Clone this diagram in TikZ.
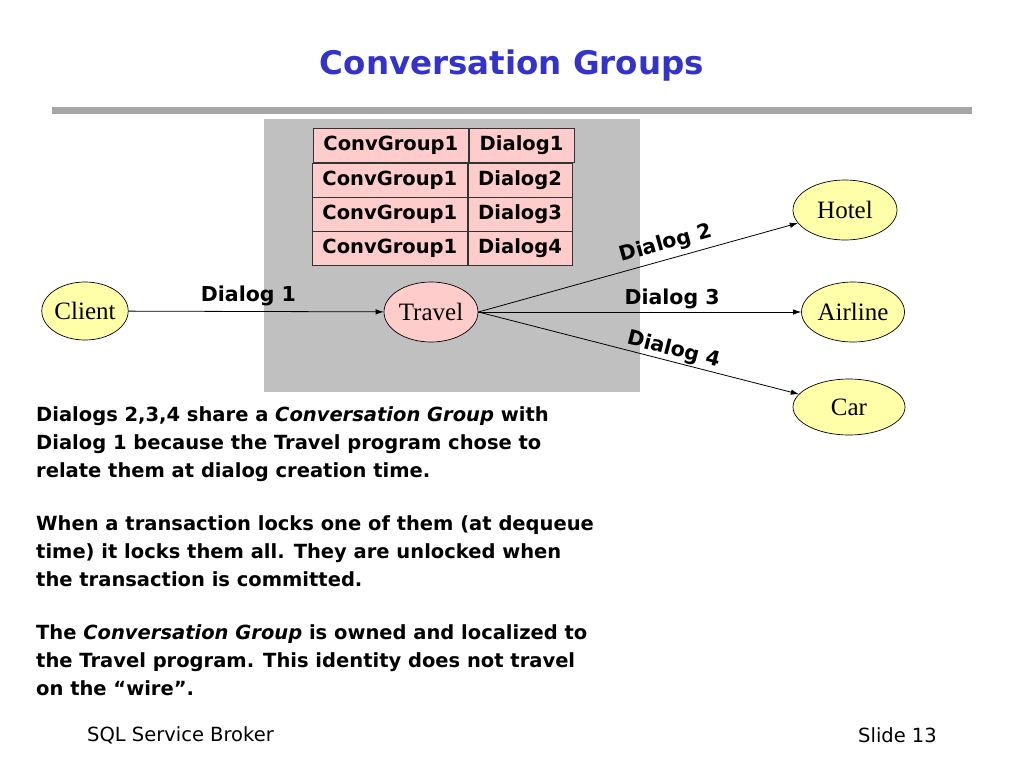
\documentclass[tikz,border=0pt]{standalone}
\usepackage{fontspec}
\setmainfont{Liberation Serif}
\newfontfamily\comic{DejaVu Sans}
\usetikzlibrary{arrows.meta,shapes.geometric}
\definecolor{titleblue}{HTML}{3333CC}
\definecolor{rulegray}{HTML}{A6A6A6}
\definecolor{boxgray}{HTML}{C0C0C0}
\definecolor{pinkfill}{HTML}{FFCCCC}
\definecolor{yellowfill}{HTML}{FFFFAA}
\begin{document}
\begin{tikzpicture}[x=1pt,y=-1pt,
  ent/.style={ellipse, draw=black, line width=0.7pt, inner sep=0pt, font=\fontsize{25}{27}\selectfont},
  client/.style={ent, fill=yellowfill},
  proc/.style={ent, fill=pinkfill},
  cell/.style={rectangle, draw=black!80, line width=0.7pt, fill=pinkfill, inner sep=0pt, anchor=north west, minimum height=34, font=\comic\bfseries\fontsize{19.5}{22}\selectfont},
  arr/.style={-{Latex[length=8pt,width=5.5pt]}, line width=0.8pt},
  lbl/.style={font=\comic\bfseries\fontsize{20.5}{22}\selectfont, inner sep=2pt},
  body/.style={font=\comic\bfseries\fontsize{19.5}{28}\selectfont, align=left, anchor=north west, inner sep=0pt},
  foot/.style={font=\comic\fontsize{19.5}{22}\selectfont, inner sep=0pt}
]
\useasboundingbox (0,0) rectangle (1024,768);
\fill[white] (0,0) rectangle (1024,768);
% title
\node[font=\comic\bfseries\fontsize{32.5}{36}\selectfont, text=titleblue] (title) at (512,66) {Conversation Groups};
\fill[rulegray] (52,107) rectangle (972,114);
% gray area
\fill[boxgray] (264,119) rectangle (640,392);
% table
\node[cell, minimum width=155] (g1) at (313,128) {ConvGroup1};
\node[cell, minimum width=105] (d1) at (g1.north east) {Dialog1};
\node[cell, minimum width=155] (g2) at (312,163) {ConvGroup1};
\node[cell, minimum width=104] (d2) at (g2.north east) {Dialog2};
\node[cell, minimum width=155] (g3) at (312,197) {ConvGroup1};
\node[cell, minimum width=104] (d3) at (g3.north east) {Dialog3};
\node[cell, minimum width=155] (g4) at (312,231) {ConvGroup1};
\node[cell, minimum width=104] (d4) at (g4.north east) {Dialog4};
% ellipses
\node[client, minimum width=86, minimum height=58] (client) at (85,311) {Client};
\node[proc, minimum width=94, minimum height=60] (travel) at (431,312) {Travel};
\node[client, minimum width=104, minimum height=60] (hotel) at (845,210) {Hotel};
\node[client, minimum width=103, minimum height=60] (airline) at (853,312) {Airline};
\node[client, minimum width=112, minimum height=56] (car) at (849,407) {Car};
% connectors
\draw[arr] (client) -- node[lbl, pos=0.47, above=3pt] {Dialog 1} (travel);
\draw[arr] (travel.east) -- node[lbl, pos=0.6, sloped, above=3pt] {Dialog 2} (hotel);
\draw[arr] (travel.east) -- node[lbl, pos=0.60, above=1pt] {Dialog 3} (airline);
\draw[arr] (travel.east) -- node[lbl, pos=0.60, sloped, above=-1pt] {Dialog 4} (car);
% body text
\node[body] (txt) at (36,406) {Dialogs 2,3,4 share a \textit{Conversation Group} with\\
Dialog 1 because the Travel program chose to\\
relate them at dialog creation time.\\[25pt]
When a transaction locks one of them (at dequeue\\
time) it locks them all. They are unlocked when\\
the transaction is committed.\\[25pt]
The \textit{Conversation Group} is owned and localized to\\
the Travel program. This identity does not travel\\
on the “wire”.};
% footer
\node[foot, anchor=west] (f1) at (87,735) {SQL Service Broker};
\node[foot, anchor=east] (f2) at (937,735) {Slide 13};
\end{tikzpicture}
\end{document}
